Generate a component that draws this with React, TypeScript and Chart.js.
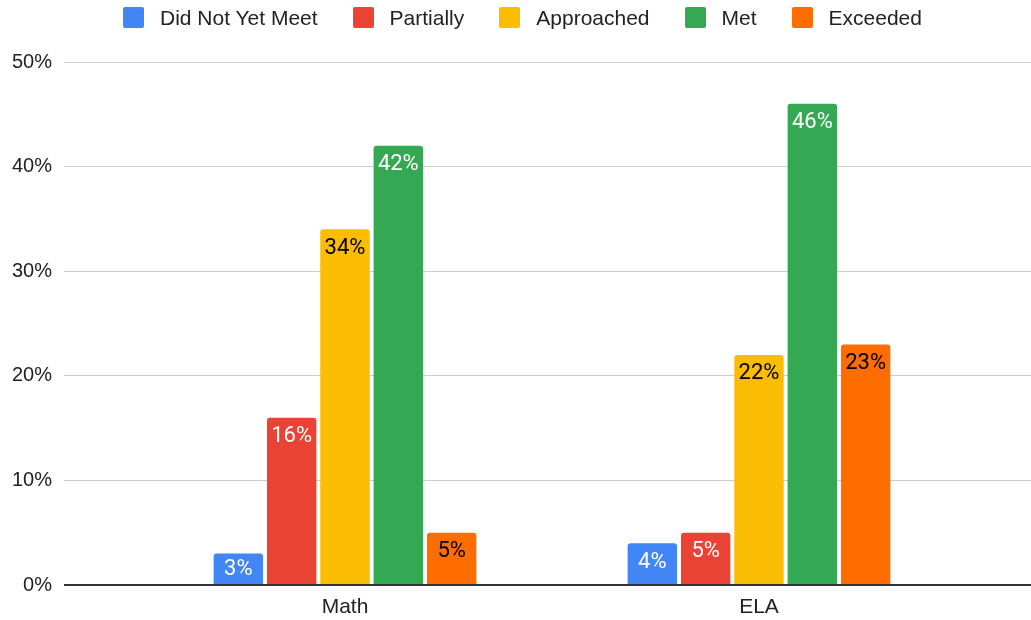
import React, { useEffect, useRef } from 'react';
import { Chart, registerables } from 'chart.js';

Chart.register(...registerables);

const categories = ['Math', 'ELA'];
const seriesNames = ['Did Not Yet Meet', 'Partially', 'Approached', 'Met', 'Exceeded'];
const didNotYetMeet = [3, 4];
const partially = [16, 5];
const approached = [34, 22];
const met = [42, 46];
const exceeded = [5, 23];
const seriesValues = [didNotYetMeet, partially, approached, met, exceeded];
const seriesColors = ['#4285F4', '#EA4335', '#FBBC04', '#34A853', '#FF6D01'];
const labelColors = ['#ffffff', '#ffffff', '#000000', '#ffffff', '#000000'];
const yMin = 0;
const yMax = 50;
const yStep = 10;

const FONT = 'Arial, "Liberation Sans", sans-serif';

const barLabels = {
  id: 'barLabels',
  afterDatasetsDraw(chart: any) {
    const ctx = chart.ctx;
    ctx.save();
    ctx.font = '22px Roboto';
    ctx.textAlign = 'center';
    ctx.textBaseline = 'middle';
    chart.data.datasets.forEach((ds: any, di: number) => {
      const meta = chart.getDatasetMeta(di);
      meta.data.forEach((el: any, i: number) => {
        const { x, y, base } = el.getProps(['x', 'y', 'base'], true);
        const cy = Math.min(y + 18, (y + base) / 2);
        ctx.fillStyle = labelColors[di];
        ctx.fillText(`${ds.data[i].y}%`, x, cy + 1);
      });
    });
    ctx.restore();
  },
};

export default function App() {
  const canvasRef = useRef<HTMLCanvasElement | null>(null);

  useEffect(() => {
    if (!canvasRef.current) return;
    const chart = new Chart(canvasRef.current, {
      type: 'bar',
      data: {
        datasets: seriesNames.map((name, si) => ({
          label: name,
          data: seriesValues[si].map((v, ci) => ({ x: ci, y: v })),
          backgroundColor: seriesColors[si],
          borderRadius: 3,
          borderSkipped: 'start',
          categoryPercentage: 0.644,
          barPercentage: 0.927,
        })),
      },
      options: {
        animation: false,
        responsive: false,
        maintainAspectRatio: false,
        layout: { padding: { left: 0, right: 0, top: 62, bottom: 0 } },
        plugins: {
          legend: { display: false },
          tooltip: { enabled: false },
        },
        scales: {
          x: {
            type: 'linear',
            offset: false,
            min: -0.6787,
            max: 1.657,
            afterBuildTicks: (axis: any) => {
              axis.ticks = categories.map((_, i) => ({ value: i }));
            },
            afterFit: (axis: any) => {
              axis.height = 35;
            },
            grid: { display: false, drawTicks: false, offset: false },
            border: { display: false },
            ticks: {
              autoSkip: false,
              maxRotation: 0,
              padding: 10,
              color: '#222222',
              font: { family: FONT, size: 21 },
              callback: (value: any) => categories[value] ?? '',
            },
          },
          y: {
            min: yMin,
            max: yMax,
            border: { display: false },
            afterFit: (axis: any) => {
              axis.width = 64;
            },
            grid: {
              drawTicks: false,
              color: (ctx: any) => (ctx.tick && ctx.tick.value === 0 ? '#333333' : '#cccccc'),
              lineWidth: (ctx: any) => (ctx.tick && ctx.tick.value === 0 ? 2 : 1),
            },
            ticks: {
              stepSize: yStep,
              padding: 12,
              color: '#222222',
              font: { family: FONT, size: 20 },
              callback: (value: any) => `${value}%`,
            },
          },
        },
      },
      plugins: [barLabels],
    } as any);
    return () => chart.destroy();
  }, []);

  return (
    <div style={{ position: 'fixed', left: 0, top: 0, width: 1031, height: 620, background: '#fff' }}>
      <canvas
        ref={canvasRef}
        width={1031}
        height={620}
        style={{ position: 'absolute', left: 0, top: 0, width: 1031, height: 620 }}
      />
      <div
        style={{
          position: 'absolute',
          left: 0,
          top: 0,
          width: 1031,
          height: 35,
          display: 'flex',
          justifyContent: 'center',
          alignItems: 'center',
          paddingLeft: 14,
          boxSizing: 'border-box',
          fontFamily: FONT,
          fontSize: 21,
          color: '#222222',
        }}
      >
        {seriesNames.map((name, i) => (
          <div
            key={name}
            style={{ display: 'flex', alignItems: 'center', marginLeft: i === 0 ? 0 : 35 }}
          >
            <span
              style={{
                display: 'inline-block',
                width: 21,
                height: 21,
                borderRadius: 2,
                background: seriesColors[i],
                marginRight: 16,
              }}
            />
            <span style={{ lineHeight: '21px', whiteSpace: 'nowrap' }}>{name}</span>
          </div>
        ))}
      </div>
    </div>
  );
}
